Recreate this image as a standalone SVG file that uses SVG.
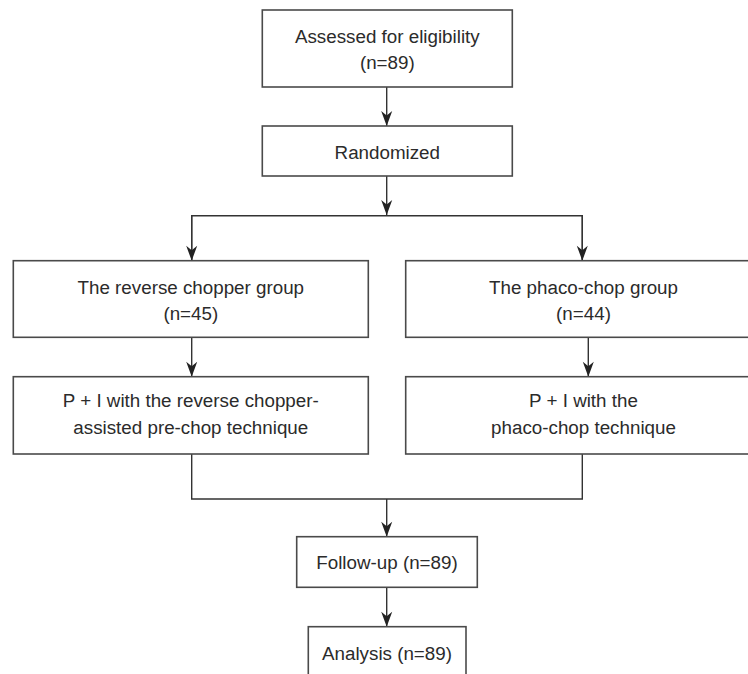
<svg xmlns="http://www.w3.org/2000/svg" width="748" height="674" viewBox="0 0 748 674">
  <defs>
    <marker id="arr" viewBox="-16 -7 17 14" markerWidth="17" markerHeight="14" refX="0" refY="0" orient="auto" markerUnits="userSpaceOnUse">
      <path d="M0,0 L-15,-5.5 L-10.5,0 L-15,5.5 Z" fill="#222"/>
    </marker>
    <style>
      .box { fill: #fff; stroke: #4a4a4a; stroke-width: 1.6; }
      .lbl { font-family: "Liberation Sans", Arial, sans-serif; font-size: 18.8px; fill: #2b2b2b; text-anchor: middle; }
      .ln { fill: none; stroke: #333; stroke-width: 1.4; }
      .ar { fill: none; stroke: #333; stroke-width: 1.4; marker-end: url(#arr); }
    </style>
  </defs>
  <rect width="748" height="674" fill="#fff"/>

  <g id="connectors">
    <line class="ar" x1="386.7" y1="87" x2="386.7" y2="126"/>
    <line class="ar" x1="386.7" y1="176" x2="386.7" y2="215"/>
    <polyline class="ln" points="191.7,260 191.7,215.7 582.3,215.7 582.3,260"/>
    <line class="ar" x1="191.7" y1="215.7" x2="191.7" y2="260.7"/>
    <line class="ar" x1="582.3" y1="215.7" x2="582.3" y2="260.7"/>
    <line class="ar" x1="191.7" y1="337.3" x2="191.7" y2="376.7"/>
    <line class="ar" x1="588.3" y1="337.3" x2="588.3" y2="376.7"/>
    <polyline class="ln" points="191.7,454 191.7,499 582.3,499 582.3,454"/>
    <line class="ar" x1="386.7" y1="499" x2="386.7" y2="536.7"/>
    <line class="ar" x1="386.7" y1="587.3" x2="386.7" y2="626.7"/>
  </g>

  <g id="assessed">
    <rect class="box" x="262.3" y="10" width="250" height="77"/>
    <text class="lbl" x="387.3" y="42.5">Assessed for eligibility</text>
    <text class="lbl" x="387.3" y="68.8">(n=89)</text>
  </g>

  <g id="randomized">
    <rect class="box" x="262.3" y="126" width="250" height="50"/>
    <text class="lbl" x="387.3" y="158.5">Randomized</text>
  </g>

  <g id="reverse-group">
    <rect class="box" x="13.3" y="260.7" width="355" height="76.6"/>
    <text class="lbl" x="190.8" y="293.5">The reverse chopper group</text>
    <text class="lbl" x="190.8" y="320.2">(n=45)</text>
  </g>

  <g id="phaco-group">
    <rect class="box" x="405.7" y="260.7" width="356" height="76.6"/>
    <text class="lbl" x="583.5" y="293.5">The phaco-chop group</text>
    <text class="lbl" x="583.5" y="320.2">(n=44)</text>
  </g>

  <g id="reverse-technique">
    <rect class="box" x="13.3" y="376.7" width="355" height="77.3"/>
    <text class="lbl" x="190.8" y="407">P + I with the reverse chopper-</text>
    <text class="lbl" x="190.8" y="433.8">assisted pre-chop technique</text>
  </g>

  <g id="phaco-technique">
    <rect class="box" x="405.7" y="376.7" width="356" height="77.3"/>
    <text class="lbl" x="583.5" y="407">P + I with the</text>
    <text class="lbl" x="583.5" y="433.8">phaco-chop technique</text>
  </g>

  <g id="followup">
    <rect class="box" x="296.7" y="536.7" width="180.6" height="50.6"/>
    <text class="lbl" x="387" y="568.5">Follow-up (n=89)</text>
  </g>

  <g id="analysis">
    <rect class="box" x="308.3" y="626.7" width="157.7" height="60"/>
    <text class="lbl" x="387" y="659.5">Analysis (n=89)</text>
  </g>
</svg>
